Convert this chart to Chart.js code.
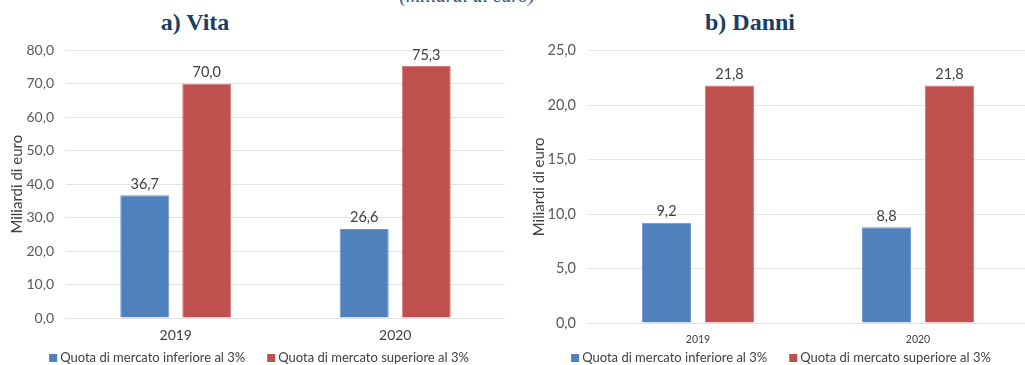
<!DOCTYPE html>
<html>
<head>
<meta charset="utf-8">
<script src="https://cdn.jsdelivr.net/npm/chart.js@4/dist/chart.umd.min.js"></script>
<style>
  html, body { margin: 0; padding: 0; background: #fff; }
  #page { position: relative; width: 1025px; height: 365px; overflow: hidden; background: #fff; }
  .head { position: absolute; font-family: "Liberation Serif", "DejaVu Serif", serif; white-space: nowrap; line-height: 1; transform: translateX(-50%); }
  .title { font-weight: bold; font-size: 24px; color: #1b3d63; top: 10px; }
  .subtitle { font-style: italic; font-size: 19.5px; color: #2b5283; top: -14px; left: 467px; }
  .box { position: absolute; top: 30px; height: 335px; }
  #boxVita { left: 0; width: 512px; }
  #boxDanni { left: 512px; width: 520px; }
</style>
</head>
<body>
<div id="page">
  <div class="head subtitle">(miliardi di euro)</div>
  <div class="head title" style="left:195px">a) Vita</div>
  <div class="head title" style="left:750px">b) Danni</div>
  <div class="box" id="boxVita"><canvas id="chartVita"></canvas></div>
  <div class="box" id="boxDanni"><canvas id="chartDanni"></canvas></div>
</div>
<script>
// Years on the x axis
const years = ['2019', '2020'];
// Series names
const seriesLow = 'Quota di mercato inferiore al 3%';
const seriesHigh = 'Quota di mercato superiore al 3%';
// Life business (billions of euro)
const vitaLow = [36.7, 26.6];
const vitaHigh = [70.0, 75.3];
// Non-life business (billions of euro)
const danniLow = [9.2, 8.8];
const danniHigh = [21.8, 21.8];
// Axis settings
const vitaMax = 80, vitaStep = 10;
const danniMax = 25, danniStep = 5;
const axisTitle = 'Miliardi di euro';

const BLUE = '#4f81bd', BLUE_EDGE = '#7099cc';
const RED = '#c0504d', RED_EDGE = '#d27f7c';
const FONT = 'Lato, "Open Sans", sans-serif';
const TEXT = '#404040';

const fmt = v => v.toFixed(1).replace('.', ',');

// Writes each bar's value just above it
const valueLabels = {
  id: 'valueLabels',
  afterDatasetsDraw(chart, args, opts) {
    const ctx = chart.ctx;
    ctx.save();
    ctx.font = opts.size + 'px ' + FONT;
    ctx.fillStyle = TEXT;
    ctx.textAlign = 'center';
    ctx.textBaseline = 'bottom';
    chart.data.datasets.forEach((ds, i) => {
      chart.getDatasetMeta(i).data.forEach((bar, j) => {
        ctx.fillText(fmt(ds.data[j]), bar.x, bar.y - 4);
      });
    });
    ctx.restore();
  }
};

// Single-row legend under the axis: square swatch, label, fixed gap between items
const rowLegend = {
  id: 'rowLegend',
  afterDraw(chart, args, opts) {
    const ctx = chart.ctx;
    ctx.save();
    ctx.font = opts.size + 'px ' + FONT;
    ctx.textBaseline = 'middle';
    ctx.textAlign = 'left';
    const box = 8, boxGap = 3, itemGap = 22;
    const items = chart.data.datasets.map(ds => ({
      text: ds.label, color: ds.backgroundColor, w: ctx.measureText(ds.label).width
    }));
    const total = items.reduce((s, it) => s + box + boxGap + it.w, 0) + itemGap * (items.length - 1);
    let x = opts.cx - total / 2;
    const y = chart.height - opts.fromBottom;
    items.forEach(it => {
      ctx.fillStyle = it.color;
      ctx.fillRect(x, y - box / 2, box, box);
      x += box + boxGap;
      ctx.fillStyle = TEXT;
      ctx.fillText(it.text, x, y);
      x += it.w + itemGap;
    });
    ctx.restore();
  }
};

function build(id, low, high, max, step, o) {
  return new Chart(document.getElementById(id), {
    type: 'bar',
    data: {
      labels: years,
      datasets: [
        { label: seriesLow, data: low, backgroundColor: BLUE, borderColor: BLUE_EDGE, borderWidth: 1 },
        { label: seriesHigh, data: high, backgroundColor: RED, borderColor: RED_EDGE, borderWidth: 1 }
      ]
    },
    options: {
      responsive: true,
      maintainAspectRatio: false,
      animation: false,
      datasets: { bar: { categoryPercentage: o.cat, barPercentage: o.bar } },
      layout: { padding: { left: o.padL, right: o.padR, top: o.padT, bottom: o.padB } },
      plugins: {
        legend: { display: false },
        tooltip: { enabled: false },
        valueLabels: { size: o.valFont },
        rowLegend: { size: 13, cx: o.legendX, fromBottom: 7 }
      },
      scales: {
        x: {
          grid: { display: false, drawTicks: false },
          border: { display: false },
          ticks: { color: TEXT, padding: o.xPad, font: { family: FONT, size: o.xFont } },
          afterFit: s => { s.height = 30; }
        },
        y: {
          min: 0, max: max,
          grid: { color: '#e3e3e3', drawTicks: false },
          border: { display: false },
          ticks: {
            stepSize: step, padding: 12, color: '#595959',
            font: { family: FONT, size: o.yFont },
            callback: v => fmt(v)
          },
          title: {
            display: true, text: axisTitle, color: TEXT,
            font: { family: FONT, size: 15 }, padding: { top: 0, bottom: 0 }
          },
          afterFit: s => { s.width = o.yWidth; }
        }
      }
    },
    plugins: [valueLabels, rowLegend]
  });
}

build('chartVita', vitaLow, vitaHigh, vitaMax, vitaStep, {
  cat: 0.565, bar: 0.79, padL: 8, padR: 7, padT: 17, padB: 17,
  xPad: 9, xFont: 14, yFont: 14, valFont: 14.5, yWidth: 58, legendX: 259
});
build('chartDanni', danniLow, danniHigh, danniMax, danniStep, {
  cat: 0.573, bar: 0.778, padL: 18, padR: 4, padT: 19, padB: 12,
  xPad: 10, xFont: 10.5, yFont: 14.5, valFont: 14.5, yWidth: 58, legendX: 269
});
</script>
</body>
</html>
